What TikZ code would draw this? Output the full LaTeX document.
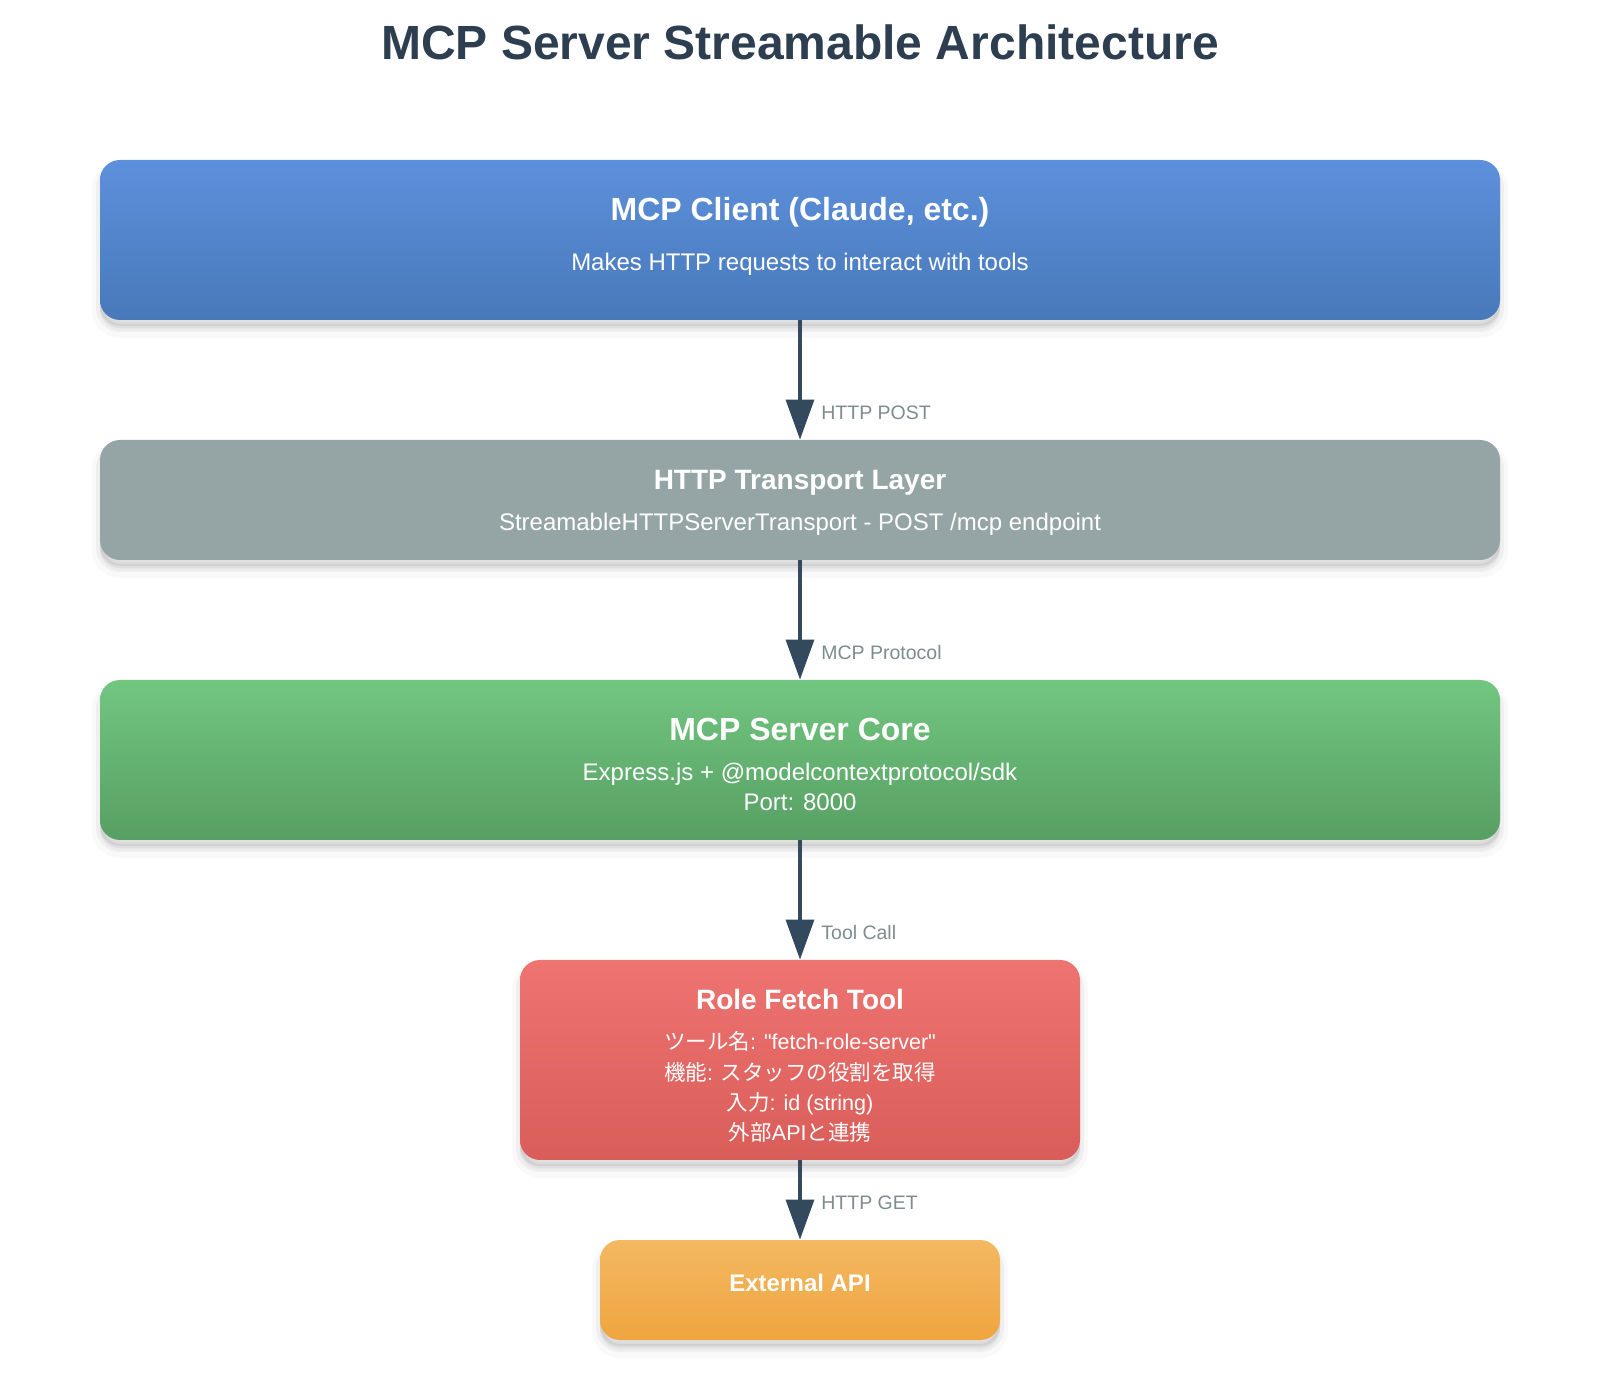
\documentclass[tikz,border=0pt]{standalone}
\usepackage{fontspec}
\setmainfont{Liberation Sans}
\newfontfamily\plainfont{Liberation Sans}
\newfontfamily\jpfont{Noto Sans CJK JP}
\usetikzlibrary{arrows.meta}

\definecolor{titlegray}{HTML}{2C3E50}
\definecolor{arrowgray}{HTML}{34495E}
\definecolor{labelgray}{HTML}{7F8C8D}
\definecolor{clienttop}{HTML}{5D90DC}
\definecolor{clientbot}{HTML}{4879BA}
\definecolor{transportgray}{HTML}{95A5A6}
\definecolor{coretop}{HTML}{72C680}
\definecolor{corebot}{HTML}{579F63}
\definecolor{tooltop}{HTML}{EE7471}
\definecolor{toolbot}{HTML}{D95D59}
\definecolor{apitop}{HTML}{F3B861}
\definecolor{apibot}{HTML}{F0A53F}

\begin{document}
\begin{tikzpicture}[x=0.5pt,y=-0.5pt,
  soft shadow/.style={
    preaction={draw=black,fill=black,line width=8pt,opacity=0.025,transform canvas={yshift=-5pt}},
    preaction={draw=black,fill=black,line width=4pt,opacity=0.04,transform canvas={yshift=-4pt}},
    preaction={fill=black,opacity=0.06,transform canvas={yshift=-3pt}}},
  box/.style={rounded corners=10pt,inner sep=0pt,minimum width=700pt,soft shadow},
  head/.style={anchor=base,white,font=\fontsize{16}{19}\selectfont\bfseries},
  subhead/.style={anchor=base,white,font=\fontsize{14}{17}\selectfont\bfseries},
  body/.style={anchor=base,white,font=\fontsize{12}{15}\selectfont},
  small/.style={anchor=base,white,font=\plainfont\fontsize{10.75}{13}\selectfont},
  flow/.style={draw=arrowgray,line width=1.7pt,-{Triangle[width=14pt,length=20pt]}},
  flowlabel/.style={anchor=base west,inner sep=0pt,labelgray,font=\fontsize{9.75}{12}\selectfont}]

  \fill[white] (0,0) rectangle (1608,1384);
  \useasboundingbox (0,0) rectangle (1608,1384);

  % Title
  \node[anchor=base,titlegray,font=\fontsize{24}{28}\selectfont\bfseries] (title) at (800,60)
    {MCP Server Streamable Architecture};

  % Boxes
  \node[box,minimum height=80pt,top color=clienttop,bottom color=clientbot] (client) at (800,240) {};
  \node[box,minimum height=60pt,fill=transportgray] (transport) at (800,500) {};
  \node[box,minimum height=80pt,top color=coretop,bottom color=corebot] (core) at (800,760) {};
  \node[box,minimum width=280pt,minimum height=100pt,top color=tooltop,bottom color=toolbot] (tool) at (800,1060) {};
  \node[box,minimum width=200pt,minimum height=50pt,top color=apitop,bottom color=apibot] (api) at (800,1290) {};

  % Client text
  \node[head] (client-head) at (800,221) {MCP Client (Claude, etc.)};
  \node[body] (client-body) at (800,271) {Makes HTTP requests to interact with tools};

  % Transport text
  \node[subhead] (transport-head) at (800,490) {HTTP Transport Layer};
  \node[body] (transport-body) at (800,531) {StreamableHTTPServerTransport - POST /mcp endpoint};

  % Core text
  \node[head] (core-head) at (800,741) {MCP Server Core};
  \node[body] (core-body) at (800,781) {Express.js + @modelcontextprotocol/sdk};
  \node[body] (core-port) at (800,811) {Port: 8000};

  % Tool text
  \node[small] (tool-name) at (800,1050) {{\jpfont ツール名}: "fetch-role-server"};
  \node[subhead] (tool-head) at (800,1010) {Role Fetch Tool};
  \node[small] (tool-func) at (800,1081) {{\jpfont 機能}: {\jpfont スタッフの役割を取得}};
  \node[small] (tool-input) at (800,1111) {{\jpfont 入力}: id (string)};
  \node[small] (tool-ext) at (800,1141) {{\jpfont 外部}API{\jpfont と連携}};

  % API text
  \node[body,font=\fontsize{12}{15}\selectfont\bfseries] (api-head) at (800,1291) {External API};

  % Connectors
  \draw[flow] (client.south) -- (transport.north);
  \draw[flow] (transport.south) -- (core.north);
  \draw[flow] (core.south) -- (tool.north);
  \draw[flow] (tool.south) -- (api.north);

  % Connector labels
  \node[flowlabel] (post-label) at (821,420) {HTTP POST};
  \node[flowlabel] (proto-label) at (821,660) {MCP Protocol};
  \node[flowlabel] (call-label) at (821,940) {Tool Call};
  \node[flowlabel] (get-label) at (821,1210) {HTTP GET};
\end{tikzpicture}
\end{document}
